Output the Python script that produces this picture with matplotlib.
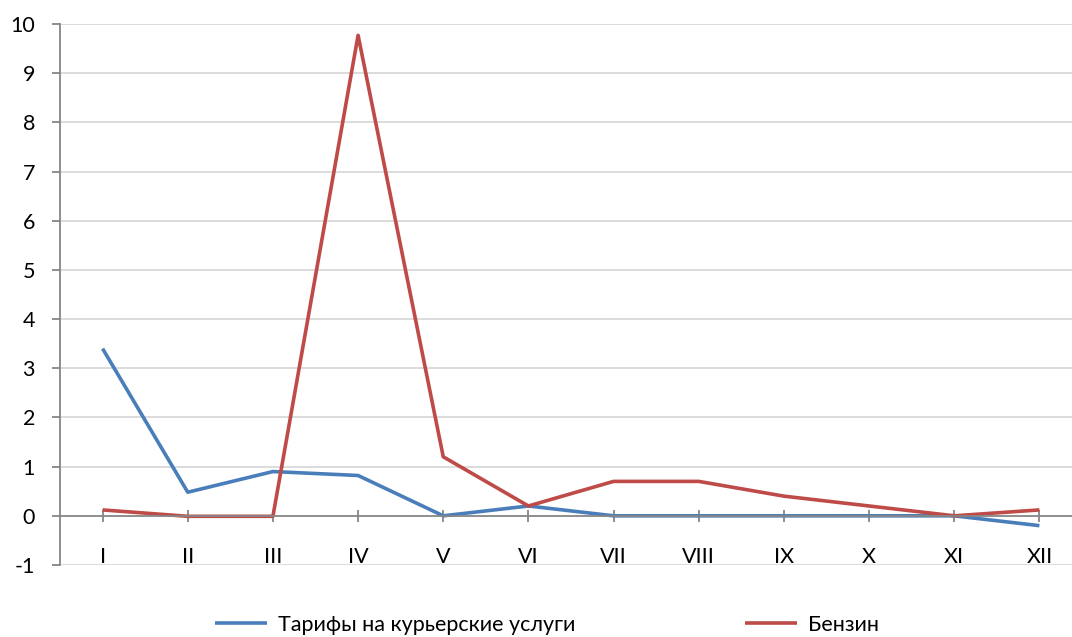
import matplotlib
matplotlib.use('Agg')
import matplotlib.pyplot as plt

plt.rcParams['font.family'] = ['Lato', 'DejaVu Sans']

# месяцы
mesyacy = ['I', 'II', 'III', 'IV', 'V', 'VI', 'VII', 'VIII', 'IX', 'X', 'XI', 'XII']
# тарифы на курьерские услуги, %
tarify = [3.4, 0.48, 0.9, 0.82, 0.0, 0.2, 0.0, 0.0, 0.0, 0.0, 0.0, -0.2]
# бензин, %
benzin = [0.12, -0.01, -0.01, 9.77, 1.2, 0.2, 0.7, 0.7, 0.4, 0.2, 0.0, 0.12]

azul = '#4a7ebb'
rojo = '#be4b48'
gris = '#868686'

fig = plt.figure(figsize=(10.72, 6.37), dpi=100)
ax = fig.add_axes([60/1072, 1 - 565/637, 1022/1072, (565 - 24)/637])

x = range(len(mesyacy))
ax.plot(x, tarify, color=azul, lw=2.6, label='Тарифы на курьерские услуги', solid_capstyle='butt')
ax.plot(x, benzin, color=rojo, lw=2.6, label='Бензин', solid_capstyle='butt')

for s in ['top', 'right']:
    ax.spines[s].set_visible(False)
ax.spines['bottom'].set_position(('data', 0))
ax.spines['bottom'].set_color(gris)
ax.spines['bottom'].set_linewidth(1.3)
ax.spines['left'].set_color(gris)
ax.spines['left'].set_linewidth(1.3)
ax.spines['left'].set_zorder(0.5)

ax.set_xlim(-0.5, len(mesyacy) - 0.5)
ax.set_ylim(-1, 10)
ax.set_yticks(range(-1, 11))
ax.set_yticklabels([str(v) for v in range(-1, 11)])
ax.set_xticks(list(x))
ax.set_xticklabels(mesyacy)

# rejilla
for v in range(-1, 11):
    if v != 0:
        ax.axhline(v, color='#d9d9d9', lw=1.3, zorder=0)

ax.tick_params(axis='x', direction='inout', length=9, width=1.3, color=gris, pad=18, labelsize=15.5)
ax.tick_params(axis='y', direction='out', length=6, width=1.3, color=gris, pad=12, labelsize=15.5)

fig.legend(loc='center', bbox_to_anchor=(547/1072, 1 - 625/637), ncol=2, frameon=False,
           fontsize=15.5, handlelength=2.4, handletextpad=0.5, columnspacing=7.9)

fig.savefig('out.png', dpi=100)
